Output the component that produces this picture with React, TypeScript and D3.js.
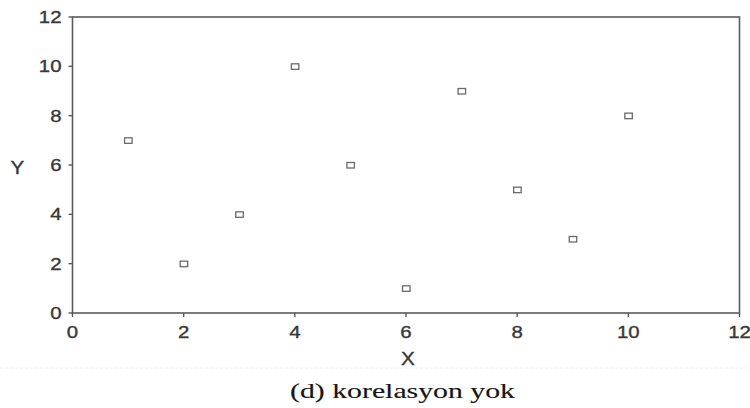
import React from "react";
import * as d3 from "d3";

const xValues = [1, 2, 3, 4, 5, 6, 7, 8, 9, 10];
const yValues = [7, 2, 4, 10, 6, 1, 9, 5, 3, 8];
const xTicks = [0, 2, 4, 6, 8, 10, 12];
const yTicks = [0, 2, 4, 6, 8, 10, 12];
const xLabel = "X";
const yLabel = "Y";
const caption = "(d) korelasyon yok";

const W = 750;
const H = 408;
const left = 72.5;
const right = 739.5;
const top = 17;
const bottom = 313;

const font = "'Liberation Sans', Arial, sans-serif";

function T(props: { x: number; y: number; anchor: string; size: number; sx: number; children: any; family?: string; fill?: string; sw?: number }) {
  return (
    <text
      transform={`translate(${props.x},${props.y}) scale(${props.sx},1)`}
      textAnchor={props.anchor}
      fontFamily={props.family || font}
      fontSize={props.size}
      fill={props.fill || "#383838"}
      stroke={props.fill || "#383838"}
      strokeWidth={props.sw ?? 0.35}
    >
      {props.children}
    </text>
  );
}

export default function App() {
  const x = d3.scaleLinear().domain([0, 12]).range([left, right]);
  const y = d3.scaleLinear().domain([0, 12]).range([bottom, top]);
  return (
    <svg width={W} height={H} style={{ position: "absolute", left: 0, top: 0, background: "#fff" }}>
      <rect x={left} y={top} width={right - left} height={bottom - top} fill="none" stroke="#5a5a5a" strokeWidth={1.6} />
      {xTicks.map((t) => (
        <g key={"x" + t}>
          <line x1={x(t)} x2={x(t)} y1={bottom} y2={bottom + 4} stroke="#5a5a5a" strokeWidth={1.4} />
          <T x={x(t)} y={bottom + 25} anchor="middle" size={17} sx={1.2}>{t}</T>
        </g>
      ))}
      {yTicks.map((t) => (
        <g key={"y" + t}>
          <line x1={left - 4} x2={left} y1={y(t)} y2={y(t)} stroke="#5a5a5a" strokeWidth={1.4} />
          <T x={left - 11} y={y(t) + 6} anchor="end" size={17} sx={1.2}>{t}</T>
        </g>
      ))}
      {xValues.map((v, i) => (
        <rect key={"p" + i} x={x(v) - 3.5} y={y(yValues[i]) - 2.5} width={7.5} height={5.5} fill="#fff" stroke="#6a6a6a" strokeWidth={1.3} />
      ))}
      <T x={408} y={365} anchor="middle" size={18} sx={1.15}>{xLabel}</T>
      <T x={17.5} y={173.5} anchor="middle" size={18} sx={1.15}>{yLabel}</T>
      <line x1={0} x2={750} y1={368} y2={368} stroke="#eeeeee" strokeWidth={1} strokeDasharray="3 2" />
      <T x={402.5} y={398} anchor="middle" size={21} sx={1.42} family="'Liberation Serif', 'Times New Roman', serif" fill="#161616" sw={0.15}>{caption}</T>
    </svg>
  );
}
